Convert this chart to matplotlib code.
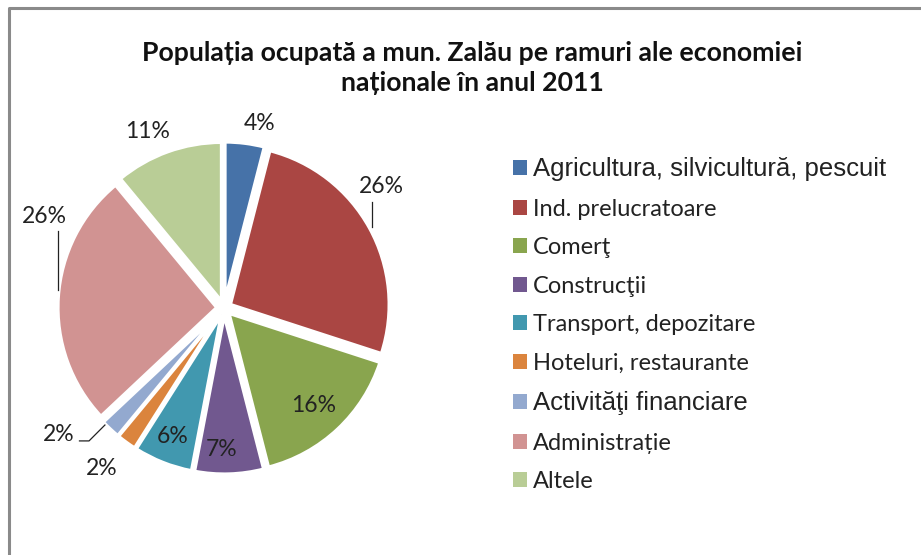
import numpy as np
import matplotlib.pyplot as plt
from matplotlib.lines import Line2D

categorii = ["Agricultura, silvicultură, pescuit", "Ind. prelucratoare", "Comerţ",
             "Construcţii", "Transport, depozitare", "Hoteluri, restaurante",
             "Activităţi financiare", "Administrație", "Altele"]
procente = [4, 26, 16, 7, 6, 2, 2, 26, 11]
culori = ["#4672A8", "#AA4643", "#89A54E", "#71588F", "#4198AF",
          "#DB843D", "#93A9CF", "#D19392", "#B9CD96"]

# pozitia etichetelor (raza relativa, decalaj unghiular in grade)
lbl_r = [1.18, 1.25, 0.83, 0.89, 0.87, 1.27, 1.31, 1.27, 1.21]
lbl_da = [-3.6, 8.8, -0.7, -2.6, -0.3, -1.3, -9.3, -23.4, 3.7]

fig = plt.figure(figsize=(9.21, 5.55), dpi=100)
W, H = 921, 555
cx, cy, unit = 224, 308, 159
half = 1.42
ax = fig.add_axes([(cx - half * unit) / W, (H - cy - half * unit) / H,
                   2 * half * unit / W, 2 * half * unit / H])

wedges, _ = ax.pie(procente, colors=culori, startangle=90, counterclock=False,
                   explode=[0.045] * len(procente), radius=1.0,
                   wedgeprops=dict(edgecolor="white", linewidth=2.5))
ax.set_xlim(-half, half)
ax.set_ylim(-half, half)
ax.axis("off")

for w, p, r, da in zip(wedges, procente, lbl_r, lbl_da):
    mid = np.deg2rad((w.theta1 + w.theta2) / 2 + da)
    ax.text(r * np.cos(mid), r * np.sin(mid), f"{p}%", ha="center", va="center",
            fontsize=16.5, family="Lato", color="#222222")

# linii de legatura
def pol(r, a):
    a = np.deg2rad(a)
    return r * np.cos(a), r * np.sin(a)

x0, y0 = pol(1.06, 28.6)
ax.plot([x0, x0], [y0, y0 + 0.16], color="#222222", lw=0.9)
x0, y0 = pol(1.05, 173.8)
ax.plot([x0, x0], [y0, y0 + 0.37], color="#222222", lw=0.9)
x0, y0 = pol(1.05, -135.5)
ax.plot([x0, x0 - 0.1, x0 - 0.16], [y0, y0 - 0.1, y0 - 0.1], color="#222222", lw=0.9)

fig.text(472 / W, 0.878, "Populația ocupată a mun. Zalău pe ramuri ale economiei\nnaționale în anul 2011",
         ha="center", va="center", fontsize=19.2, fontweight="bold", family="Lato",
         linespacing=1.3, color="#111111")

leg = fig.legend(wedges, categorii, loc="upper left", bbox_to_anchor=(0.534, 0.755),
                 frameon=False, handlelength=0.6, handleheight=0.6, handletextpad=0.25,
                 labelspacing=0.74, prop=dict(family="Lato", size=17))
for i in (0, 6):
    leg.get_texts()[i].set_fontfamily("Liberation Sans")
    leg.get_texts()[i].set_fontsize(18.5)
for t in leg.get_texts():
    t.set_color("#222222")
for hnd in leg.legend_handles:
    hnd.set_edgecolor("none")

# chenarul graficului
fig.add_artist(Line2D([9 / W, 9 / W, 1.0], [0.0, 1 - 8 / H, 1 - 8 / H],
                      transform=fig.transFigure, color="#8a8a8a", lw=2.2))

fig.savefig("out.png", dpi=100)
